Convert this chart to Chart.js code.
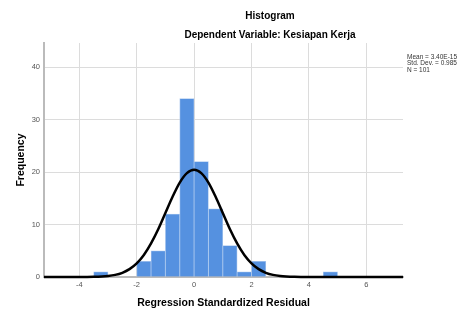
<!DOCTYPE html>
<html>
<head>
<meta charset="utf-8">
<script src="https://cdn.jsdelivr.net/npm/chart.js@4/dist/chart.umd.min.js"></script>
<style>
  html, body { margin: 0; padding: 0; background: #fff; }
  #wrap { width: 464px; height: 311px; position: relative; }
</style>
</head>
<body>
<div id="wrap"><canvas id="histChart"></canvas></div>
<script>
// histogram bins (centre of each 0.5 wide bin) and their counts
const binCenters = [-3.25, -1.75, -1.25, -0.75, -0.25, 0.25, 0.75, 1.25, 1.75, 2.25, 4.75];
const frequencies = [1, 3, 5, 12, 34, 22, 13, 6, 1, 3, 1];

// normal curve
const curveX = [-5.23, -4, -3.5, -3, -2.75, -2.5, -2.25, -2, -1.75, -1.5, -1.25, -1, -0.75, -0.5, -0.25, 0,
  0.25, 0.5, 0.75, 1, 1.25, 1.5, 1.75, 2, 2.25, 2.5, 2.75, 3, 3.5, 4, 7.28];
const curveY = [0, 0, 0.04, 0.2, 0.4, 0.8, 1.5, 2.6, 4.2, 6.4, 9.1, 12.2, 15.3, 18.0, 19.8, 20.45,
  19.8, 18.0, 15.3, 12.2, 9.1, 6.4, 4.2, 2.6, 1.5, 0.8, 0.4, 0.2, 0.04, 0, 0];

const xTicks = [-4, -2, 0, 2, 4, 6];
const yTicks = [0, 10, 20, 30, 40];

const statsLines = ['Mean = 3.40E-15', 'Std. Dev. = 0.985', 'N = 101'];

const FONT = "'Liberation Sans', Arial, sans-serif";

// titles and the stats box on the right
const textPlugin = {
  id: 'texts',
  afterDraw(chart) {
    const ctx = chart.ctx;
    ctx.save();
    ctx.fillStyle = '#000';
    ctx.textAlign = 'center';
    ctx.textBaseline = 'middle';
    ctx.font = 'bold 10px ' + FONT;
    ctx.fillText('Histogram', 270, 16);
    ctx.fillText('Dependent Variable: Kesiapan Kerja', 270, 35);

    ctx.textAlign = 'left';
    ctx.font = '6.5px ' + FONT;
    ctx.fillStyle = '#333';
    statsLines.forEach((t, i) => ctx.fillText(t, 407, 57 + i * 6.5));
    ctx.restore();
  }
};

new Chart(document.getElementById('histChart'), {
  type: 'bar',
  data: {
    datasets: [
      {
        type: 'line',
        data: curveX.map((x, i) => ({ x: x, y: curveY[i] })),
        borderColor: '#000',
        borderWidth: 2.5,
        pointRadius: 0,
        cubicInterpolationMode: 'monotone',
        clip: 4,
        order: 0
      },
      {
        type: 'bar',
        data: binCenters.map((x, i) => ({ x: x, y: frequencies[i] })),
        backgroundColor: '#5591e0',
        borderColor: '#a8c6ee',
        borderWidth: 0.8,
        barPercentage: 1,
        categoryPercentage: 1,
        order: 1
      }
    ]
  },
  options: {
    responsive: true,
    maintainAspectRatio: false,
    animation: false,
    layout: { padding: { top: 43, right: 61, left: 0, bottom: 0 } },
    plugins: {
      legend: { display: false },
      tooltip: { enabled: false }
    },
    scales: {
      x: {
        type: 'linear',
        offset: false,
        min: -5.23,
        max: 7.28,
        afterBuildTicks: s => { s.ticks = xTicks.map(v => ({ value: v })); },
        afterFit: s => { s.height = 34; },
        ticks: { color: '#555', font: { size: 7.5, family: FONT }, padding: 3 },
        grid: { color: '#dcdcdc', drawTicks: false, offset: false },
        border: { color: '#bbb', width: 2 },
        title: {
          display: true,
          text: 'Regression Standardized Residual',
          color: '#000',
          font: { size: 10.5, weight: 'bold', family: FONT },
          padding: { top: 0, bottom: 2 }
        }
      },
      y: {
        min: 0,
        max: 44.6,
        afterBuildTicks: s => { s.ticks = yTicks.map(v => ({ value: v })); },
        afterFit: s => { s.width = 44; },
        ticks: { color: '#555', font: { size: 7.5, family: FONT }, padding: 4 },
        grid: { color: '#dcdcdc', drawTicks: false },
        border: { color: '#bbb', width: 2 },
        title: {
          display: true,
          text: 'Frequency',
          color: '#000',
          font: { size: 10.5, weight: 'bold', family: FONT },
          padding: { top: 15, bottom: 0 }
        }
      }
    }
  },
  plugins: [textPlugin]
});
</script>
</body>
</html>
